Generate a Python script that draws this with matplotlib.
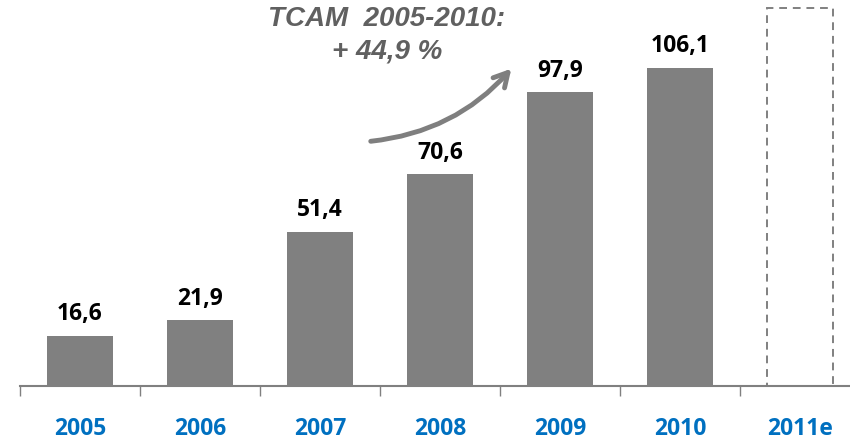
import matplotlib.pyplot as plt
from matplotlib.patches import FancyArrowPatch

plt.rcParams['font.family'] = ['Open Sans', 'DejaVu Sans']

# chart values
years = ["2005", "2006", "2007", "2008", "2009", "2010", "2011e"]
values = [16.6, 21.9, 51.4, 70.6, 97.9, 106.1]
estimate_2011 = 126.0   # empty placeholder bar, no label
labels = ["16,6", "21,9", "51,4", "70,6", "97,9", "106,1"]

bar_gray = "#808080"
blue = "#0070C0"

fig = plt.figure(figsize=(8.5, 4.42), dpi=100)
ax = fig.add_axes([20 / 850, 1 - 386 / 442, 830 / 850, 386 / 442])

x = list(range(len(years)))
ax.bar(x[:6], values, width=0.55, color=bar_gray, zorder=2)
ax.bar(x[6], estimate_2011, width=0.55, facecolor="none", edgecolor=bar_gray,
       linestyle=(0, (4, 3)), linewidth=1.4, zorder=2)

for xi, v, lab in zip(x, values, labels):
    ax.annotate(lab, (xi, v), xytext=(0, 7), textcoords="offset points",
                ha="center", va="bottom", fontsize=16.5, fontweight="bold",
                color="black")

ax.set_xlim(-0.5, 6.417)
ax.set_ylim(0, 128.7)

for s in ["top", "right", "left"]:
    ax.spines[s].set_visible(False)
ax.spines["bottom"].set_color(bar_gray)
ax.spines["bottom"].set_linewidth(1.5)
ax.set_yticks([])

# ticks between categories, labels centred on categories
ax.set_xticks([i - 0.5 for i in range(len(years))])
ax.set_xticklabels([])
ax.tick_params(axis="x", length=7, width=1, color=bar_gray)
ax.set_xticks(x, minor=True)
ax.set_xticklabels(years, minor=True)
ax.tick_params(axis="x", which="minor", length=0, pad=22,
               labelsize=16.5, labelcolor=blue)
for t in ax.get_xticklabels(minor=True):
    t.set_fontweight("bold")

# growth annotation
ax.text(2.558, 117, "TCAM  2005-2010:\n+ 44,9 %", ha="center", va="center",
        fontsize=20, fontweight="bold", fontstyle="italic", color="#606060",
        family=["Liberation Sans", "DejaVu Sans"], linespacing=1.3)
arrow = FancyArrowPatch((2.4, 81.5), (3.61, 106.5),
                        connectionstyle="arc3,rad=0.2",
                        arrowstyle="->,head_length=10,head_width=5.5",
                        color="#7f7f7f", linewidth=3.5, zorder=3)
ax.add_patch(arrow)

fig.savefig("out.png", dpi=100)
